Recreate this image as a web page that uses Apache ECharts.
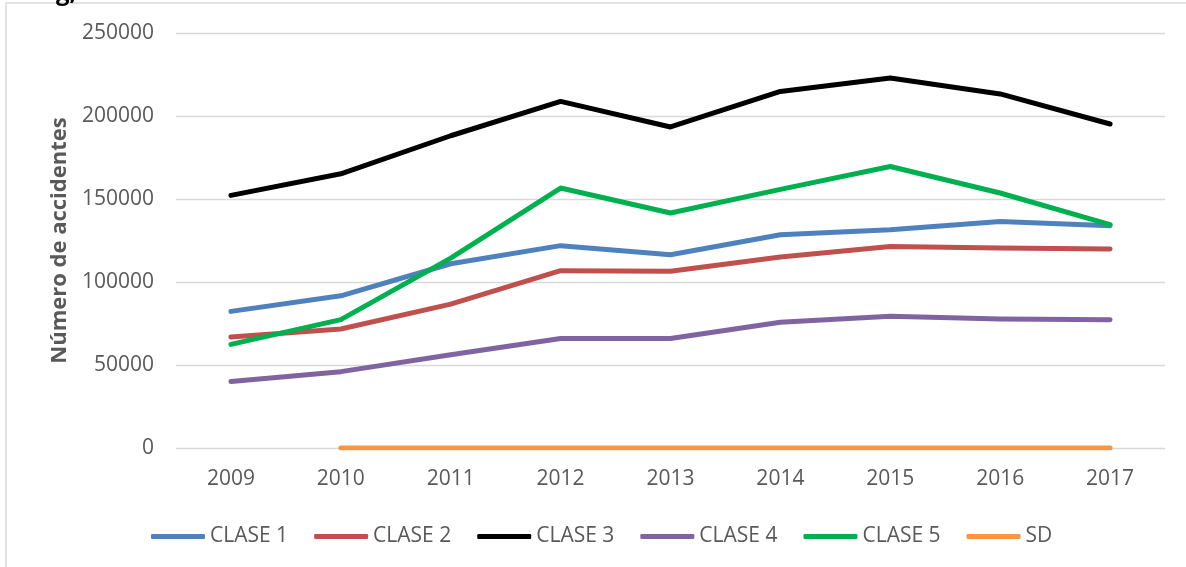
<!DOCTYPE html>
<html>
<head>
<meta charset="utf-8">
<script src="https://cdn.jsdelivr.net/npm/echarts@6/dist/echarts.min.js"></script>
<style>
  html, body { margin: 0; padding: 0; background: #fff; }
  #main { width: 1186px; height: 567px; }
</style>
</head>
<body>
<div id="main"></div>
<script>
const YEARS = ['2009', '2010', '2011', '2012', '2013', '2014', '2015', '2016', '2017']

const CLASE_1 = [82300, 91700, 111000, 121900, 116400, 128500, 131500, 136500, 133900]
const CLASE_2 = [66900, 71700, 86700, 106800, 106500, 115000, 121400, 120500, 119900]
const CLASE_3 = [152200, 165200, 188100, 208800, 193400, 214800, 222900, 213300, 195200]
const CLASE_4 = [40100, 46000, 56200, 66000, 66000, 75700, 79300, 77700, 77300]
const CLASE_5 = [62400, 77300, 114400, 156600, 141600, 155800, 169600, 153600, 134600]
const SD      = [null, 0, 0, 0, 0, 0, 0, 0, 0]

const SERIES = [
  { name: 'CLASE 1', data: CLASE_1, color: '#4F81BD' },
  { name: 'CLASE 2', data: CLASE_2, color: '#C0504D' },
  { name: 'CLASE 3', data: CLASE_3, color: '#000000' },
  { name: 'CLASE 4', data: CLASE_4, color: '#8064A2' },
  { name: 'CLASE 5', data: CLASE_5, color: '#00B050' },
  { name: 'SD',      data: SD,      color: '#F79646' },
]

const FONT = "'Open Sans', 'Noto Sans', sans-serif"
const TEXT_COLOR = '#595959'

const chart = echarts.init(document.getElementById('main'), null, { renderer: 'canvas' })

chart.setOption({
  backgroundColor: '#fff',
  animation: false,
  textStyle: { fontFamily: FONT },
  graphic: [
    {
      type: 'rect', silent: true,
      shape: { x: 6, y: 3, width: 1300, height: 700 },
      style: { fill: 'none', stroke: '#d9d9d9', lineWidth: 1.5 },
    },
    {
      type: 'text', silent: true, left: 56, top: -19,
      style: { text: 'g,', font: "bold 24px 'Open Sans'", fill: '#000' },
    },
  ],
  grid: { left: 176, right: 21, top: 33, bottom: 119 },
  legend: {
    left: 146, top: 521, width: 1000,
    icon: 'roundRect',
    itemWidth: 54, itemHeight: 5, itemGap: 26,
    textStyle: { color: TEXT_COLOR, fontSize: 21, fontFamily: FONT },
    data: SERIES.map(s => s.name),
  },
  xAxis: {
    type: 'category',
    data: YEARS,
    boundaryGap: true,
    axisLine: { show: false },
    axisTick: { show: false },
    axisLabel: { color: TEXT_COLOR, fontSize: 21, margin: 21 },
    splitLine: { show: false },
  },
  yAxis: {
    type: 'value',
    min: 0, max: 250000, interval: 50000,
    name: 'Número de accidentes',
    nameLocation: 'middle',
    nameGap: 104,
    nameRotate: 90,
    nameTextStyle: { color: TEXT_COLOR, fontSize: 22, fontWeight: 'bold' },
    axisLine: { show: false },
    axisTick: { show: false },
    axisLabel: { color: TEXT_COLOR, fontSize: 21, margin: 22, formatter: v => String(v) },
    splitLine: { lineStyle: { color: '#d9d9d9', width: 1.3 } },
  },
  series: SERIES.map(s => ({
    name: s.name,
    type: 'line',
    data: s.data,
    symbol: 'none',
    color: s.color,
    lineStyle: { color: s.color, width: 5, cap: 'round', join: 'round' },
  })),
})
</script>
</body>
</html>
